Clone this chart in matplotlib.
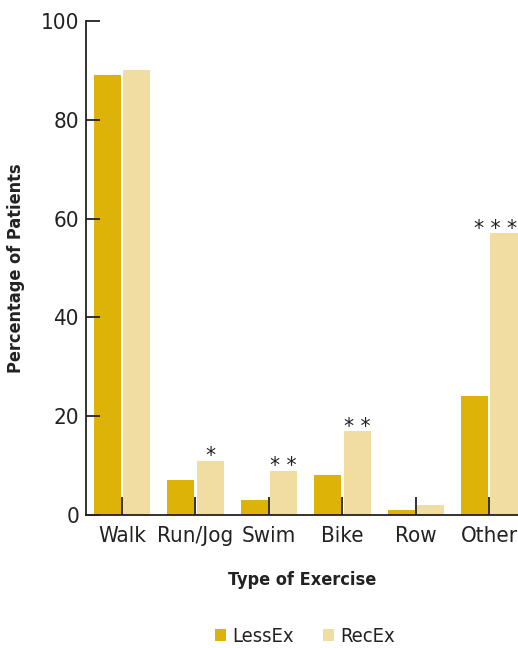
import matplotlib
matplotlib.use("Agg")
import matplotlib.pyplot as plt
from matplotlib import font_manager as fm
import numpy as np

categories = ["Walk", "Run/Jog", "Swim", "Bike", "Row", "Other"]
less_ex = [89, 7, 3, 8, 1, 24]
rec_ex = [90, 11, 9, 17, 2, 57]
rec_marks = ["", "*", "* *", "* *", "", "* * *"]
yticks = [0, 20, 40, 60, 80, 100]

c_less = "#DDB307"
c_rec = "#F1DDA1"
txt = "#222222"

# look for a condensed sans font
reg_path, bold_path = None, None
cands = []
for f in fm.fontManager.ttflist:
    n = (f.fname + " " + f.name).lower()
    if ("condensed" in n or "narrow" in n) and "sans" in n and "mono" not in n and "serif" not in n.replace("sans", ""):
        cands.append(f)
cands.sort(key=lambda f: f.fname)
for f in cands:
    fn = f.fname.lower()
    if "italic" in fn or "oblique" in fn:
        continue
    if "bold" in fn:
        bold_path = bold_path or f.fname
    else:
        reg_path = reg_path or f.fname

def fp(size, bold=False):
    path = bold_path if bold else reg_path
    if path:
        return fm.FontProperties(fname=path, size=size)
    return fm.FontProperties(family="DejaVu Sans", size=size, weight="bold" if bold else "normal")

fig = plt.figure(figsize=(5.18, 6.48), dpi=100)
ax = fig.add_axes([86/518, 1-515/648, 1-86/518, (515-21)/648])

x = np.arange(len(categories))
w = 0.37
off = 0.2
ax.bar(x - off, less_ex, width=w, color=c_less, label="LessEx", zorder=2)
ax.bar(x + off, rec_ex, width=w, color=c_rec, label="RecEx", zorder=2)

for xi, v, m in zip(x, rec_ex, rec_marks):
    if m:
        dx = -6.0 if len(m) > 3 else 0.0
        ax.annotate(m, xy=(xi + off, v), xytext=(dx, -1.2), textcoords="offset points",
                    ha="center", va="baseline", fontproperties=fp(16), color=txt,
                    annotation_clip=False)

ax.set_xlim(-0.49, 5.39)
ax.set_ylim(0, 100)
ax.set_yticks(yticks)
ax.set_xticks(x)
ax.set_xticklabels(categories)
ax.tick_params(axis="y", direction="in", length=10, width=1.3, colors=txt, pad=5)
ax.tick_params(axis="x", direction="in", length=13, width=1.3, colors=txt, pad=8)
for lab in ax.get_xticklabels() + ax.get_yticklabels():
    lab.set_fontproperties(fp(16))
for s in ["top", "right"]:
    ax.spines[s].set_visible(False)
for s in ["left", "bottom"]:
    ax.spines[s].set_linewidth(1.3)
    ax.spines[s].set_color(txt)
    ax.spines[s].set_zorder(3)
ax.set_axisbelow(False)

ax.set_ylabel("Percentage of Patients", fontproperties=fp(13, True), color=txt, labelpad=11)
ax.set_xlabel("Type of Exercise", fontproperties=fp(13, True), color=txt, labelpad=18)

fig.legend(loc="center", bbox_to_anchor=(305/518, 1-637/648), ncol=2, frameon=False,
           prop=fp(14.5), handlelength=0.55, handleheight=0.55, handletextpad=0.35,
           columnspacing=1.4, labelcolor=txt)

fig.savefig("out.png", dpi=100)
